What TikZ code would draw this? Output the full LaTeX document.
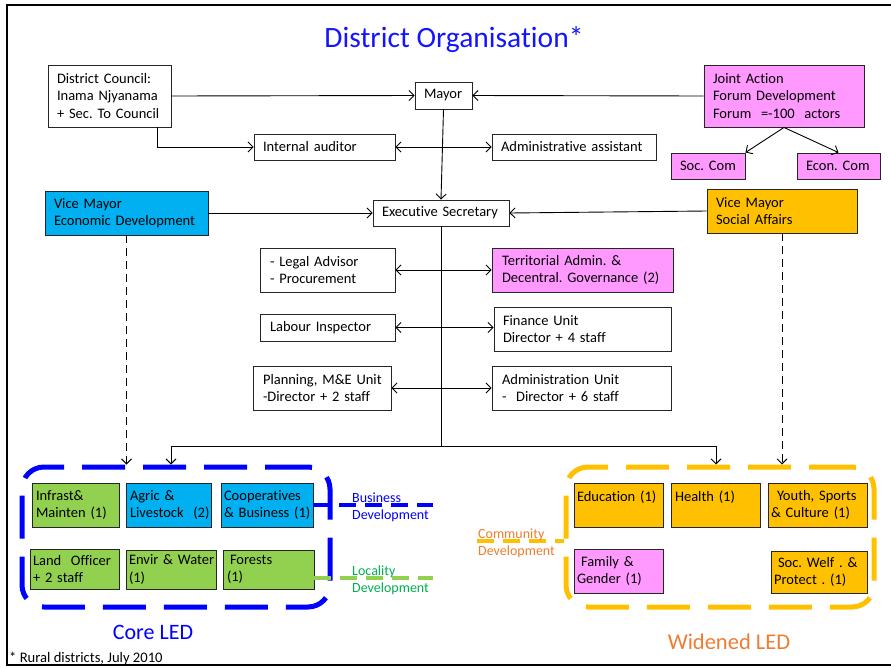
\documentclass[tikz,border=0pt]{standalone}
\usepackage{fontspec}
\setmainfont{Carlito}[Ligatures=NoCommon]
\usetikzlibrary{arrows.meta}

\definecolor{pinkbox}{HTML}{FF99FF}
\definecolor{cyanbox}{HTML}{00B0F0}
\definecolor{amber}{HTML}{FFC000}
\definecolor{greenbox}{HTML}{92D050}
\definecolor{titleblue}{HTML}{1414FF}
\definecolor{ledorange}{HTML}{ED7D31}
\definecolor{locgreen}{HTML}{00B050}

\newcommand\orgfont{\fontsize{14.5}{17.6}\selectfont}
\newcommand\nobreaking{\frenchspacing\hyphenpenalty=10000 \exhyphenpenalty=10000 \hbadness=10000 \hfuzz=20pt\relax}

\tikzset{
  orgbox/.style={draw=black!85, line width=0.9pt, align=left, inner ysep=0pt,
    font=\orgfont, execute at begin node=\nobreaking},
  conn/.style={line width=0.9pt, draw=black},
  tip/.style={-{Straight Barb[length=5pt,width=10pt,line width=0.9pt]}},
  tips/.style={{Straight Barb[length=5pt,width=10pt,line width=0.9pt]}-{Straight Barb[length=5pt,width=10pt,line width=0.9pt]}},
  dashtip/.style={conn, dash pattern=on 8pt off 5pt, -{Straight Barb[length=5pt,width=10pt,line width=0.9pt]}},
  ledframe/.style={line width=5pt, rounded corners=22pt, dash pattern=on 43pt off 18pt,
    minimum width=308pt, minimum height=140pt, inner sep=0pt},
  smalllabel/.style={align=left, inner sep=0pt, font=\fontsize{14}{17}\selectfont},
}

% box: name, x1, y1, x2, y2, fill, left padding, text
\newcommand\orgnode[8]{%
  \pgfmathsetmacro\obW{#4-#2}%
  \pgfmathsetmacro\obH{#5-#3}%
  \pgfmathsetmacro\obT{#4-#2-2*#7}%
  \node[orgbox, fill=#6, minimum width=\obW pt, minimum height=\obH pt,
        text width=\obT pt, inner xsep=#7pt] (#1) at ({(#2+#4)/2},{(#3+#5)/2}) {#8};}

\begin{document}
\begin{tikzpicture}[x=1pt,y=-1pt]
\useasboundingbox (0,0) rectangle (891,667);

% page frame (open on the right)
\draw[line width=1.4pt] (891,5) -- (7,5) -- (7,665) -- (891,665);

% title and footnote
\node[anchor=base, text=titleblue, font=\fontsize{29.5}{33}\selectfont] (title) at (454,47) {District Organisation*};
\node[anchor=base west, inner sep=0pt, font=\fontsize{14.6}{17}\selectfont] (foot) at (9,662) {* Rural districts, July 2010};

% upper organisation
\orgnode{DC}{48}{65}{171}{127}{white}{9}{District Council:\\Inama Njyanama\\+ Sec. To Council}
\orgnode{MY}{415}{82}{472}{109}{white}{9}{Mayor}
\orgnode{JA}{704}{65}{864}{127}{pinkbox}{9}{Joint Action\\Forum Development\\Forum~~=-100~~actors}
\orgnode{IA}{254}{134}{395}{160}{white}{9}{Internal auditor}
\orgnode{AA}{492}{134}{656}{160}{white}{9}{Administrative~assistant}
\orgnode{SC}{671}{153}{745}{179}{pinkbox}{9}{Soc.~Com}
\orgnode{EC}{797}{153}{880}{179}{pinkbox}{9}{Econ.~Com}
\orgnode{VME}{45}{191}{208}{235}{cyanbox}{9}{Vice Mayor\\Economic~Development}
\orgnode{ES}{373}{200}{509}{226}{white}{9}{Executive~Secretary}
\orgnode{VMS}{707}{189}{857}{233}{amber}{9}{Vice Mayor\\Social Affairs}

% units under the executive secretary
\orgnode{LA}{260}{248}{395}{292}{white}{10}{- Legal Advisor\\- Procurement}
\orgnode{TA}{492}{248}{673}{292}{pinkbox}{10}{Territorial Admin. \&\\Decentral.~Governance~(2)}
\orgnode{LI}{260}{314}{395}{341}{white}{10}{Labour~Inspector}
\orgnode{FU}{494}{307}{671}{351}{white}{9}{Finance Unit\\Director + 4 staff}
\orgnode{PM}{253}{366}{391}{410}{white}{10}{Planning,~M\&E~Unit\\-Director + 2 staff}
\orgnode{AU}{492}{366}{671}{410}{white}{10}{Administration Unit\\-~~Director + 6 staff}

% LED frames
\node[ledframe, draw=blue] (core) at (176,537) {};
\node[ledframe, draw=amber] (wide) at (720,537) {};

% core LED units
\orgnode{IM}{32}{483}{119}{527}{greenbox}{4}{Infrast\&\\Mainten~(1)}
\orgnode{AL}{126}{483}{211}{527}{cyanbox}{4}{Agric~\&\\Livestock~~(2)}
\orgnode{CB}{221}{483}{313}{527}{cyanbox}{3}{Cooperatives\\\&~Business~(1)}
\orgnode{LO}{30}{549}{119}{589}{greenbox}{3}{Land~~Officer\\+~2~staff}
\orgnode{EW}{126}{550}{216}{589}{greenbox}{3}{Envir~\&~Water\\(1)}
\orgnode{FO}{223}{550}{314}{589}{greenbox}{4}{\hspace*{3pt}Forests\\(1)}

% widened LED units
\orgnode{ED}{574}{483}{663}{527}{amber}{3}{Education~(1)\\\mbox{}}
\orgnode{HE}{671}{483}{760}{527}{amber}{4}{Health~(1)\\\mbox{}}
\orgnode{YS}{768}{483}{867}{527}{amber}{3}{\hspace*{6pt}Youth,~Sports\\\&~Culture~(1)}
\orgnode{FG}{574}{549}{663}{593}{pinkbox}{3}{\hspace*{4pt}Family~\&\\Gender~(1)}
\orgnode{SW}{771}{551}{867}{593}{amber}{3}{\hspace*{4pt}Soc.~Welf~.~\&\\Protect~.~(1)}

% top-level connectors
\draw[conn, tip] (DC.east) -- (MY.west);
\draw[conn, tip] (JA.west) -- (MY.east);
\draw[conn, tip] ([xshift=-14pt]DC.south east) |- (IA.west);
\draw[conn, tips] (IA.east) -- (AA.west);
\draw[conn, tip] (MY.south) -- (ES.north);
\draw[conn, tip] (JA.south) -- (SC.north east);
\draw[conn, tip] (JA.south) -- (EC.north);
\draw[conn, tip] (VME.east) -- (ES.west);
\draw[conn, tip] (VMS.west) -- (ES.east);

% executive secretary trunk and its units
\coordinate (busL) at (171,446);
\coordinate (busR) at (716,446);
\draw[conn] (ES.south) -- (ES.south |- busL);
\draw[conn, tips] (LA.east) -- (TA.west);
\draw[conn, tips] (LI.east) -- (LI.east -| FU.west);
\draw[conn, tips] (PM.east) -- (AU.west);
\draw[conn] (busL) -- (busR);
\draw[conn, tip] (busL) -- (busL |- core.north);
\draw[conn, tip] (busR) -- (busR |- wide.north);

% vice mayor oversight
\draw[dashtip] (VME.south) -- (VME.south |- core.north);
\draw[dashtip] (VMS.south) -- (VMS.south |- wide.north);

% development strands
\coordinate (bdEnd) at (433,505);
\coordinate (ldEnd) at (433,578);
\coordinate (cdStart) at (477,541);
\draw[blue, line width=3.5pt, dash pattern=on 17pt off 9pt] (CB.east) -- (bdEnd);
\draw[greenbox, line width=3.5pt, dash pattern=on 17pt off 9pt] (FO.east |- ldEnd) -- (ldEnd);
\draw[amber, line width=3.5pt, dash pattern=on 17pt off 9pt] (cdStart) -- (cdStart -| wide.west);

\node[smalllabel, text=blue, anchor=west] (bdText) at (352,507) {Business\\Development};
\node[smalllabel, text=locgreen, anchor=west] (ldText) at (352,580) {Locality\\Development};
\node[smalllabel, text=ledorange, anchor=west] (cdText) at (478,543) {Community\\Development};

% frame captions
\node[anchor=base, text=blue, font=\fontsize{22}{25}\selectfont] (coreText) at (153,639) {Core LED};
\node[anchor=base, text=ledorange, font=\fontsize{22.5}{25}\selectfont] (wideText) at (729,649) {Widened LED};
\end{tikzpicture}
\end{document}
